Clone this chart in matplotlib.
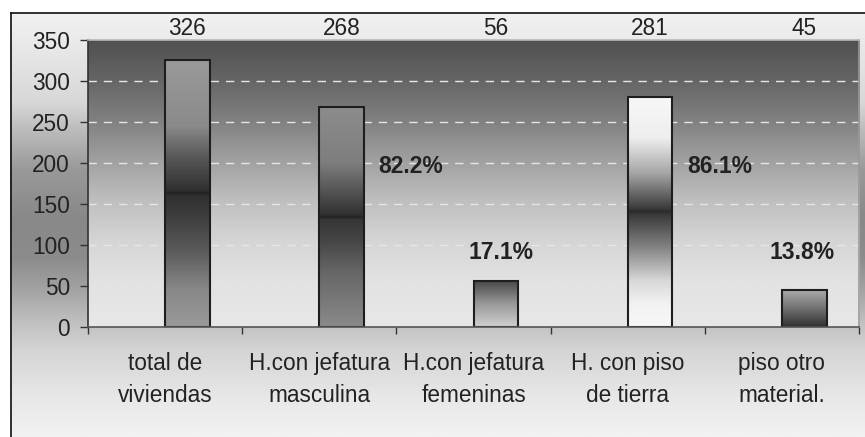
import numpy as np
import matplotlib
matplotlib.use("Agg")
import matplotlib.pyplot as plt
import matplotlib.transforms as mtransforms

plt.rcParams['font.family'] = ['Liberation Sans', 'DejaVu Sans']

categories = ['total de\nviviendas', 'H.con jefatura\nmasculina', 'H.con jefatura\nfemeninas',
              'H. con piso\nde tierra', 'piso otro\nmaterial.']
values = [326, 268, 56, 281, 45]
pct_labels = ['', '82.2%', '17.1%', '86.1%', '13.8%']
pct_y = [0, 196, 91, 196, 91]

W, H = 865, 437
fig = plt.figure(figsize=(W / 100, H / 100), dpi=100)
fig.patch.set_facecolor('white')


def grad(stops, n=400):
    # stops: list of (pos 0..1, grey 0..255)
    pos = np.array([s[0] for s in stops])
    g = np.array([s[1] for s in stops]) / 255.0
    t = np.linspace(0, 1, n)
    col = np.interp(t, pos, g)
    return np.dstack([col, col, col]).reshape(n, 1, 3)


# outer chart area
bg = fig.add_axes([0, 0, 1, 1], zorder=-10)
bg.set_xlim(0, W)
bg.set_ylim(H, 0)
bg.axis('off')
outer = grad([(0, 0xf2), (0.07, 0xea), (0.21, 0xd8), (0.28, 0xbb), (0.37, 0x99),
              (0.49, 0x88), (0.58, 0x8c), (0.66, 0xa5), (0.73, 0xc0), (0.80, 0xd5),
              (0.91, 0xe8), (1, 0xf2)])
bg.imshow(outer, extent=[10, W + 1, H, 12], aspect='auto', interpolation='bilinear')
bg.plot([10.5, 10.5], [H, 12.5], color='#111111', lw=1.2)
bg.plot([10.5, W], [12.5, 12.5], color='#111111', lw=1.2)

# plot area
x0, x1, y0, y1 = 88, 859, 40, 327
ax = fig.add_axes([x0 / W, (H - y1) / H, (x1 - x0) / W, (y1 - y0) / H])
ax.set_facecolor('none')
ax.set_xlim(-0.5, 4.5)
ax.set_ylim(0, 350)

plot_bg = grad([(0, 0x50), (0.14, 0x65), (0.28, 0x80), (0.42, 0xa0), (0.56, 0xbf),
                (0.70, 0xd5), (0.84, 0xe2), (1, 0xe8)])
ax.imshow(plot_bg, extent=[-0.5, 4.5, 0, 350], aspect='auto', zorder=0,
          interpolation='bilinear')

for v in range(50, 350, 50):
    ax.axhline(v, color='#e6e6e6', lw=1, dashes=(6, 5), zorder=1)

bar_stops = [
    [(0, 0x9a), (0.25, 0x8a), (0.36, 0x5a), (0.49, 0x30), (0.5, 0x22), (0.51, 0x30),
     (0.58, 0x3c), (0.72, 0x5c), (0.86, 0x88), (1, 0x9a)],
    [(0, 0x8c), (0.25, 0x7e), (0.38, 0x55), (0.49, 0x30), (0.5, 0x22), (0.51, 0x35),
     (0.6, 0x44), (0.75, 0x66), (1, 0x8a)],
    [(0, 0x48), (0.5, 0x9a), (1, 0xd0)],
    [(0, 0xf8), (0.18, 0xee), (0.33, 0xa8), (0.49, 0x38), (0.5, 0x2a), (0.51, 0x38),
     (0.65, 0x80), (0.8, 0xd8), (0.9, 0xf2), (1, 0xf8)],
    [(0, 0xaa), (0.5, 0x70), (1, 0x30)],
]

xs = np.arange(len(values))
bw = 0.29
bars = ax.bar(xs + bw / 2, values, width=bw, facecolor='none', edgecolor='#1e1e1e',
              lw=1.5, zorder=3)
for b, st in zip(bars, bar_stops):
    bx, by = b.get_x(), b.get_y()
    ax.imshow(grad(st), extent=[bx, bx + b.get_width(), by, by + b.get_height()],
              aspect='auto', zorder=2, interpolation='bilinear')
ax.set_xlim(-0.5, 4.5)
ax.set_ylim(0, 350)

fs = 16.3

# value labels above plot area
trans = mtransforms.blended_transform_factory(ax.transData, ax.transAxes)
for b, v in zip(bars, values):
    ax.text(b.get_x() + bw / 2, 1.04, str(v), transform=trans, ha='center',
            va='center', fontsize=fs, color='#222222', clip_on=False)

# percentage labels
pct_dx = [0, 0.59, 0.18, 0.60, 0.13]
for i, (lab, yy) in enumerate(zip(pct_labels, pct_y)):
    if lab:
        ax.text(i + pct_dx[i], yy, lab, ha='center', va='center', fontsize=16.5,
                fontweight='bold', color='#222222', zorder=4)

# axes styling
ax.set_yticks(range(0, 351, 50))
ax.tick_params(axis='y', length=6, width=1, color='#333333', pad=7,
               labelsize=fs, labelcolor='#222222')
ax.set_xticks(xs)
ax.set_xticklabels(categories, fontsize=fs, color='#222222', linespacing=1.5)
ax.tick_params(axis='x', which='major', length=0, pad=18)
ax.set_xticks(np.arange(-0.5, 4.6, 1), minor=True)
ax.tick_params(axis='x', which='minor', length=5, width=1, color='#333333')
ax.spines['left'].set_color('#333333')
ax.spines['bottom'].set_color('#555555')
ax.spines['top'].set_color('#b8b8b8')
ax.spines['right'].set_color('#9a9a9a')
for s in ax.spines.values():
    s.set_linewidth(1.2)
    s.set_zorder(5)

fig.savefig('out.png', dpi=100)
